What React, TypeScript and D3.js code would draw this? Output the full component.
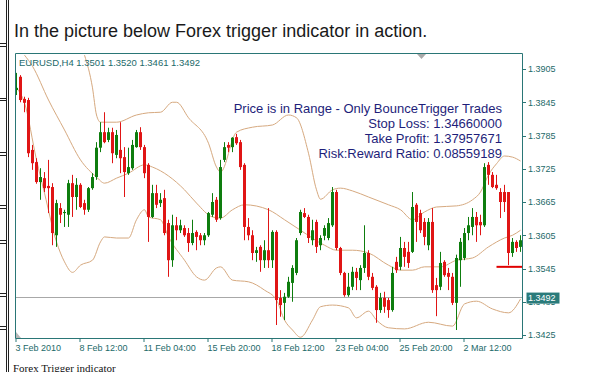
import React from "react";
import * as d3 from "d3";

// ---- data (EURUSD H4) ----
const opens = [1.3867,1.3891,1.3851,1.3849,1.3759,1.3737,1.3701,1.3708,1.3694,1.3692,1.3605,1.3654,1.3645,1.3642,1.3699,1.3674,1.3696,1.3663,1.3651,1.3690,1.3710,1.3763,1.3791,1.3777,1.3791,1.3750,1.3759,1.3746,1.3717,1.3726,1.3764,1.3791,1.3764,1.3732,1.3638,1.3681,1.3663,1.3672,1.3627,1.3560,1.3623,1.3614,1.3618,1.3609,1.3591,1.3611,1.3605,1.3596,1.3605,1.3642,1.3669,1.3636,1.3741,1.3768,1.3764,1.3782,1.3773,1.3732,1.3620,1.3605,1.3573,1.3584,1.3560,1.3578,1.3560,1.3611,1.3492,1.3483,1.3494,1.3519,1.3537,1.3609,1.3645,1.3638,1.3596,1.3629,1.3587,1.3604,1.3600,1.3623,1.3683,1.3582,1.3537,1.3497,1.3512,1.3539,1.3524,1.3546,1.3573,1.3530,1.3512,1.3470,1.3492,1.3488,1.3470,1.3557,1.3548,1.3582,1.3575,1.3575,1.3660,1.3645,1.3629,1.3587,1.3629,1.3515,1.3512,1.3557,1.3537,1.3530,1.3483,1.3560,1.3564,1.3609,1.3620,1.3638,1.3629,1.3623,1.3732,1.3714,1.3696,1.3683,1.3683,1.3683,1.3573,1.3593,1.3584];
const closes = [1.3871,1.3849,1.3844,1.3753,1.3735,1.3701,1.3710,1.3690,1.3690,1.3609,1.3663,1.3642,1.3647,1.3699,1.3674,1.3696,1.3656,1.3651,1.3690,1.3710,1.3763,1.3791,1.3773,1.3791,1.3753,1.3786,1.3744,1.3719,1.3728,1.3768,1.3791,1.3764,1.3717,1.3638,1.3681,1.3660,1.3669,1.3609,1.3560,1.3623,1.3614,1.3623,1.3605,1.3591,1.3609,1.3602,1.3596,1.3605,1.3645,1.3665,1.3633,1.3728,1.3764,1.3763,1.3781,1.3771,1.3728,1.3620,1.3605,1.3573,1.3578,1.3560,1.3578,1.3560,1.3611,1.3488,1.3479,1.3494,1.3521,1.3546,1.3596,1.3647,1.3638,1.3600,1.3614,1.3584,1.3600,1.3618,1.3627,1.3683,1.3582,1.3537,1.3497,1.3512,1.3539,1.3528,1.3546,1.3573,1.3530,1.3510,1.3470,1.3492,1.3476,1.3470,1.3537,1.3542,1.3582,1.3566,1.3555,1.3656,1.3629,1.3614,1.3602,1.3629,1.3506,1.3506,1.3555,1.3533,1.3530,1.3483,1.3564,1.3593,1.3609,1.3623,1.3638,1.3623,1.3623,1.3728,1.3714,1.3692,1.3690,1.3665,1.3665,1.3573,1.3593,1.3582,1.3596];
const highs = [1.3898,1.3894,1.3855,1.3853,1.3768,1.3744,1.3726,1.3719,1.3741,1.3699,1.3669,1.3663,1.3651,1.3705,1.3714,1.3708,1.3699,1.3669,1.3692,1.3717,1.3773,1.3809,1.3827,1.3799,1.3799,1.3795,1.3809,1.3764,1.3763,1.3777,1.3795,1.3800,1.3768,1.3735,1.3696,1.3696,1.3681,1.3687,1.3633,1.3642,1.3638,1.3633,1.3623,1.3618,1.3633,1.3614,1.3609,1.3609,1.3647,1.3681,1.3674,1.3741,1.3773,1.3773,1.3782,1.3788,1.3777,1.3735,1.3636,1.3614,1.3584,1.3587,1.3596,1.3654,1.3614,1.3614,1.3506,1.3501,1.3530,1.3551,1.3600,1.3651,1.3654,1.3642,1.3633,1.3633,1.3605,1.3623,1.3636,1.3692,1.3687,1.3584,1.3539,1.3537,1.3548,1.3546,1.3551,1.3623,1.3578,1.3537,1.3515,1.3501,1.3503,1.3492,1.3548,1.3566,1.3602,1.3593,1.3593,1.3683,1.3663,1.3651,1.3636,1.3636,1.3654,1.3528,1.3575,1.3560,1.3546,1.3537,1.3570,1.3600,1.3618,1.3638,1.3654,1.3647,1.3642,1.3735,1.3737,1.3719,1.3714,1.3690,1.3696,1.3683,1.3600,1.3596,1.3605];
const lows = [1.3858,1.3845,1.3827,1.3746,1.3723,1.3698,1.3669,1.3683,1.3645,1.3587,1.3584,1.3627,1.3620,1.3620,1.3638,1.3651,1.3654,1.3642,1.3647,1.3687,1.3705,1.3755,1.3771,1.3773,1.3735,1.3744,1.3717,1.3674,1.3714,1.3723,1.3763,1.3759,1.3708,1.3593,1.3636,1.3654,1.3656,1.3605,1.3530,1.3548,1.3596,1.3609,1.3602,1.3575,1.3587,1.3578,1.3587,1.3587,1.3602,1.3638,1.3629,1.3633,1.3737,1.3755,1.3755,1.3768,1.3723,1.3596,1.3596,1.3560,1.3557,1.3539,1.3546,1.3546,1.3546,1.3443,1.3458,1.3452,1.3492,1.3485,1.3533,1.3605,1.3636,1.3591,1.3587,1.3573,1.3578,1.3596,1.3596,1.3620,1.3578,1.3533,1.3494,1.3494,1.3506,1.3506,1.3506,1.3537,1.3524,1.3506,1.3447,1.3465,1.3465,1.3456,1.3467,1.3537,1.3542,1.3548,1.3546,1.3573,1.3593,1.3609,1.3587,1.3578,1.3501,1.3459,1.3506,1.3530,1.3506,1.3479,1.3434,1.3512,1.3560,1.3596,1.3605,1.3593,1.3605,1.3620,1.3696,1.3690,1.3687,1.3636,1.3647,1.3551,1.3566,1.3575,1.3575];

// Bollinger bands: bar index and value where read
const upperIdx = [17,19,20,21,25,30,33,36,39,40,43,48,50,51,55,59,64,68,70,73,75,76,79,81,84,88,93,96,99,102,105,110,114,116,118,120,122,124,126];
const upperVal = [1.3930,1.3871,1.3822,1.3809,1.3809,1.3822,1.3826,1.3827,1.3845,1.3845,1.3817,1.3771,1.3728,1.3719,1.3791,1.3800,1.3804,1.3822,1.3817,1.3753,1.3687,1.3670,1.3687,1.3690,1.3685,1.3674,1.3660,1.3651,1.3633,1.3647,1.3656,1.3658,1.3669,1.3683,1.3714,1.3734,1.3748,1.3746,1.3739];
const middleIdx = [2,4,8,12,16,20,22,25,28,32,34,38,42,45,49,51,54,57,63,67,71,77,80,84,88,93,96,99,102,106,110,114,118,122,124,126];
const middleVal = [1.3930,1.3910,1.3849,1.3795,1.3741,1.3710,1.3699,1.3708,1.3717,1.3732,1.3728,1.3712,1.3687,1.3663,1.3638,1.3636,1.3651,1.3660,1.3651,1.3633,1.3614,1.3587,1.3578,1.3578,1.3573,1.3551,1.3542,1.3542,1.3548,1.3548,1.3560,1.3564,1.3584,1.3600,1.3605,1.3614];
const lowerIdx = [0,2,5,7,10,12,14,16,19,21,22,25,28,30,32,33,36,38,42,45,47,50,51,54,58,62,65,67,69,71,74,76,79,83,85,88,90,93,97,103,109,112,115,119,123,126];
const lowerVal = [1.3871,1.3844,1.3741,1.3681,1.3593,1.3557,1.3538,1.3551,1.3560,1.3593,1.3602,1.3600,1.3600,1.3633,1.3651,1.3638,1.3633,1.3602,1.3560,1.3530,1.3524,1.3546,1.3548,1.3524,1.3521,1.3506,1.3488,1.3452,1.3434,1.3421,1.3452,1.3476,1.3479,1.3474,1.3456,1.3468,1.3452,1.3438,1.3436,1.3448,1.3441,1.3481,1.3486,1.3472,1.3465,1.3490];

const timeTickIdx = [0,16,32,48,64,80,96,112];
const timeTickLabels = ["3 Feb 2010","8 Feb 12:00","11 Feb 04:00","15 Feb 20:00","18 Feb 12:00","23 Feb 04:00","25 Feb 20:00","2 Mar 12:00"];
const priceTicks = [1.3905,1.3845,1.3785,1.3725,1.3665,1.3605,1.3545,1.3485,1.3425];
const bidPrice = 1.3492;
const levelPrice = 1.3548;
const levelStartIdx = 120;
const headerText = "EURUSD,H4  1.3501 1.3520 1.3461 1.3492";
const infoLines = ["Price is in Range - Only BounceTrigger Trades","Stop Loss: 1.34660000","Take Profit: 1.37957671","Risk:Reward Ratio: 0.08559189"];
const pageTitle = "In the picture below Forex trigger indicator in action.";
const caption = "Forex Trigger indicator";
const sideRuleYs = [43,46,98,100,152,155,205,208,240,243,293,296,326,329];

const W = 597, H = 372;
const FL = 15.5, FR = 522.5, FT = 53.5, FB = 338.5;
const TEAL = "#2a7676";
const TEXT_TEAL = "#1d6a6a";
const UP = "#0e7d0e";
const DOWN = "#e01515";
const BAND = "#d6a97f";
const SANS = "'Liberation Sans', Arial, sans-serif";

export default function App() {
  const x = d3.scaleLinear().domain([0, 126]).range([16.5, 520.5]);
  const y = d3.scaleLinear().domain([1.3425, 1.3905]).range([335, 69]);

  const bandLine = (idx: number[], vals: number[]) =>
    d3.line<number>()
      .x((_, i) => x(idx[i]))
      .y((v) => y(v))
      .curve(d3.curveMonotoneX)(vals) || "";

  const bidY = Math.floor(y(bidPrice)) + 0.5;

  return (
    <svg width={W} height={H} style={{ position: "absolute", left: 0, top: 0, background: "#fff" }}>
      <defs>
        <clipPath id="plot">
          <rect x={16} y={54} width={506} height={284} />
        </clipPath>
        <clipPath id="belowBox">
          <rect x={522} y={y(bidPrice) + 5.7} width={75} height={20} />
        </clipPath>
      </defs>
      <rect x={0} y={0} width={W} height={H} fill="#fff" />

      {/* page side rules */}
      <line x1={6.5} y1={0} x2={6.5} y2={H} stroke="#222" />
      <line x1={8.5} y1={0} x2={8.5} y2={H} stroke="#222" />
      {sideRuleYs.map((v, i) => (
        <line key={i} x1={0} y1={v + 0.5} x2={6.5} y2={v + 0.5} stroke="#222" />
      ))}

      <text x={14} y={36.7} fontFamily={SANS} fontSize={18} fill="#1a1a1a">{pageTitle}</text>

      {/* bid line */}
      <line x1={FL} y1={bidY} x2={FR} y2={bidY} stroke="#a8a8a8" />

      <g clipPath="url(#plot)">
        <path d={bandLine(upperIdx, upperVal)} fill="none" stroke={BAND} strokeWidth={1} />
        <path d={bandLine(middleIdx, middleVal)} fill="none" stroke={BAND} strokeWidth={1} />
        <path d={bandLine(lowerIdx, lowerVal)} fill="none" stroke={BAND} strokeWidth={1} />
        {opens.map((o, i) => {
          const c = closes[i];
          const col = c >= o ? UP : DOWN;
          const cx = x(i);
          const yTop = y(Math.max(o, c));
          const hgt = Math.max(1, Math.abs(y(o) - y(c)));
          return (
            <g key={i}>
              <line x1={cx} y1={y(highs[i])} x2={cx} y2={y(lows[i])} stroke={col} strokeWidth={1} />
              <rect x={cx - 1.5} y={yTop} width={3} height={hgt} fill={col} />
            </g>
          );
        })}
        <line x1={x(levelStartIdx)} y1={y(levelPrice)} x2={FR} y2={y(levelPrice)} stroke="#e00000" strokeWidth={2} />
      </g>

      {/* frame */}
      <line x1={FL} y1={FT} x2={FR} y2={FT} stroke={TEAL} />
      <line x1={FL} y1={FT} x2={FL} y2={FB} stroke={TEAL} />
      <line x1={FR} y1={FT} x2={FR} y2={FB} stroke={TEAL} />
      <line x1={FL} y1={FB} x2={FR} y2={FB} stroke={TEAL} />

      {/* markers */}
      <polygon points="417,54 426,54 421.5,59" fill="#a9a9a9" />
      <polygon points="16,332 16,338 21,338" fill="#b8b8b8" />

      <text x={19} y={65.7} fontFamily={SANS} fontSize={9.5} fill={TEXT_TEAL} textLength={181} lengthAdjust="spacing">{headerText}</text>

      {infoLines.map((t, i) => (
        <text key={i} x={502} y={112.5 + i * 15} textAnchor="end" fontFamily={SANS} fontSize={13} fill="#1e1e7a">{t}</text>
      ))}

      {/* price axis */}
      {priceTicks.map((p, i) => {
        const hidden = Math.abs(p - bidPrice) < 0.0015;
        return (
          <g key={i}>
            <line x1={FR} y1={Math.round(y(p)) + 0.5} x2={526} y2={Math.round(y(p)) + 0.5} stroke={TEAL} />
            <text x={528} y={y(p) + 3.3} fontFamily={SANS} fontSize={9} fill={TEXT_TEAL}
              clipPath={hidden ? "url(#belowBox)" : undefined}>{p.toFixed(4)}</text>
          </g>
        );
      })}
      <rect x={526.5} y={y(bidPrice) - 5.3} width={33} height={11} fill="#2a7b7b" />
      <text x={528} y={y(bidPrice) + 3.3} fontFamily={SANS} fontSize={9} fill="#ffffff">{bidPrice.toFixed(4)}</text>

      {/* time axis */}
      {timeTickIdx.map((t, i) => (
        <g key={i}>
          <line x1={x(t) - 0.5} y1={FB} x2={x(t) - 0.5} y2={342} stroke={TEAL} />
          <text x={x(t) - 1} y={351} fontFamily={SANS} fontSize={9} fill={TEXT_TEAL}>{timeTickLabels[i]}</text>
        </g>
      ))}

      <text x={13} y={371.5} fontFamily="'Liberation Serif', 'Times New Roman', serif" fontSize={11} fill="#111">{caption}</text>
    </svg>
  );
}
